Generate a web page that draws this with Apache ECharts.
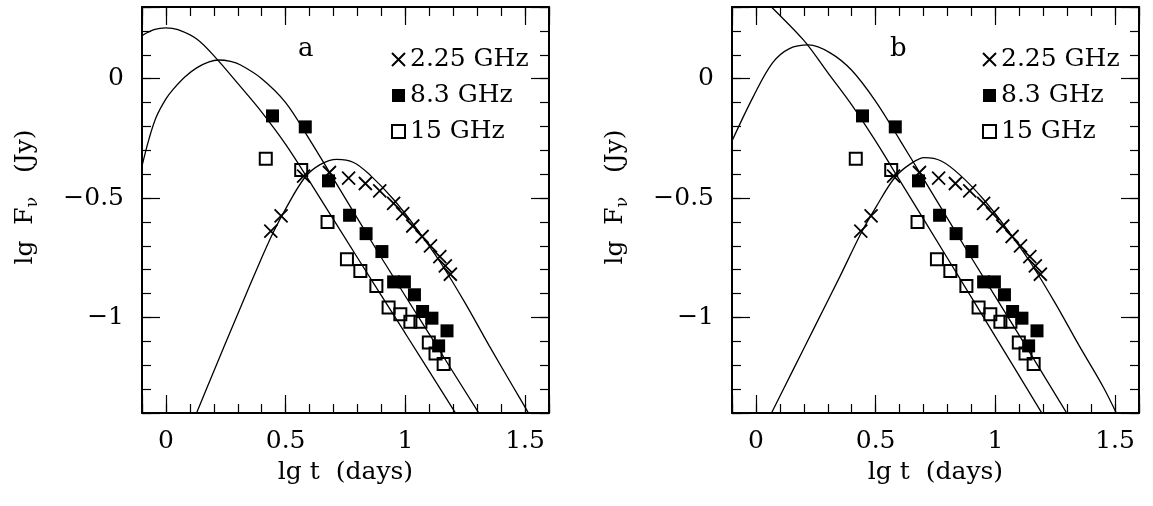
<!DOCTYPE html>
<html>
<head>
<meta charset="utf-8">
<script src="https://cdn.jsdelivr.net/npm/echarts@6/dist/echarts.min.js"></script>
<style>html,body{margin:0;padding:0;background:#fff}#c{width:1153px;height:506px}</style>
</head>
<body>
<div id="c"></div>
<script>
// ---- observed data (same in both panels) ----
const x225 = [0.438,0.481,0.575,0.683,0.763,0.833,0.893,0.951,0.989,1.031,1.070,1.105,1.144,1.167,1.188];
const y225 = [-0.638,-0.575,-0.408,-0.393,-0.417,-0.439,-0.470,-0.522,-0.565,-0.617,-0.661,-0.700,-0.745,-0.784,-0.819];
const x83 = [0.445,0.582,0.679,0.767,0.836,0.902,0.951,0.996,1.038,1.072,1.111,1.174,1.139];
const y83 = [-0.156,-0.202,-0.428,-0.572,-0.649,-0.724,-0.851,-0.851,-0.905,-0.975,-1.003,-1.056,-1.119];
const x15 = [0.417,0.565,0.675,0.756,0.812,0.879,0.930,0.979,1.021,1.063,1.098,1.126,1.160];
const y15 = [-0.335,-0.382,-0.600,-0.756,-0.805,-0.868,-0.958,-0.986,-1.018,-1.018,-1.105,-1.151,-1.195];

// ---- model curves, panel a ----
const a15x = [-0.10,-0.05,0.00,0.05,0.13,0.21,0.30,0.40,0.50,0.60,0.80,1.00,1.22];
const a15y = [0.180,0.205,0.213,0.205,0.165,0.085,-0.020,-0.140,-0.275,-0.430,-0.750,-1.067,-1.417];
const a83x = [-0.10,-0.07,-0.04,0.00,0.03,0.08,0.13,0.18,0.22,0.27,0.31,0.40,0.50,0.60,0.70,0.90,1.10,1.32];
const a83y = [-0.366,-0.250,-0.160,-0.085,-0.045,0.008,0.046,0.070,0.078,0.072,0.058,0.000,-0.100,-0.255,-0.420,-0.750,-1.070,-1.421];
const a225x = [0.128,0.20,0.30,0.40,0.45,0.50,0.58,0.644,0.714,0.784,0.854,0.95,1.05,1.15,1.25,1.35,1.45,1.52];
const a225y = [-1.40,-1.225,-0.985,-0.75,-0.64,-0.545,-0.414,-0.36,-0.338,-0.351,-0.405,-0.505,-0.632,-0.775,-0.94,-1.118,-1.29,-1.41];

// ---- model curves, panel b ----
const b15x = [0.00,0.065,0.20,0.30,0.40,0.50,0.60,0.80,1.00,1.20];
const b15y = [0.365,0.300,0.160,0.025,-0.110,-0.262,-0.425,-0.752,-1.080,-1.41];
const b83x = [-0.10,-0.01,0.07,0.14,0.22,0.31,0.40,0.50,0.60,0.70,0.90,1.10,1.31];
const b83y = [-0.261,-0.073,0.067,0.126,0.141,0.108,0.035,-0.095,-0.255,-0.420,-0.750,-1.075,-1.42];
const b225x = [0.065,0.15,0.25,0.35,0.44,0.50,0.58,0.644,0.704,0.774,0.854,0.95,1.05,1.15,1.25,1.35,1.45,1.51];
const b225y = [-1.40,-1.23,-1.03,-0.83,-0.645,-0.54,-0.414,-0.358,-0.331,-0.345,-0.405,-0.505,-0.632,-0.775,-0.94,-1.118,-1.29,-1.41];

const legendNames = ['2.25 GHz','8.3 GHz','15 GHz'];
const panelLabels = ['a','b'];

const FONT = 'DejaVu Serif';
const FS = 25;
const CROSS = 'path://M0,0L10,10M0,10L10,0';

function pairs(xs, ys){ return xs.map((x,i)=>[x, ys[i]]); }
function fmt(v){
  const r = Math.round(v*10)/10;
  if (Math.abs(r*2 - Math.round(r*2)) > 1e-6) return '';
  if (r === 0) return '0';
  return (r < 0 ? '\u2212' : '') + String(Math.abs(r));
}

const gridLefts = [142, 732];
const gridW = 407, gridTop = 7, gridH = 406;

function axisBase(g, min, max){
  return {
    gridIndex: g, type: 'value', min: min, max: max,
    splitLine: {show: false},
    axisLine: {show: true, onZero: false, lineStyle: {color: '#000', width: 2}},
    axisTick: {show: true, inside: true, length: 18, lineStyle: {color: '#000', width: 1.2}},
    axisLabel: {show: false},
    axisPointer: {show: false}
  };
}
function minorOf(base, interval){
  return Object.assign({}, base, {
    interval: interval,
    axisLine: {show: false, onZero: false},
    axisTick: {show: true, inside: true, length: 9, lineStyle: {color: '#000', width: 1.2}}
  });
}

const xAxis = [], yAxis = [];
[0,1].forEach(g => {
  const xb = axisBase(g, -0.1, 1.6);
  xAxis.push(Object.assign({}, xb, {
    position: 'bottom', splitNumber: 4,
    axisLabel: {show: true, margin: 16, color: '#000', fontFamily: FONT, fontSize: FS, formatter: fmt},
    name: 'lg t  (days)', nameLocation: 'middle', nameGap: 47,
    nameTextStyle: {color: '#000', fontFamily: FONT, fontSize: FS}
  }));
  xAxis.push(Object.assign(minorOf(xb, 0.1), {position: 'bottom'}));
  xAxis.push(Object.assign({}, xb, {position: 'top', splitNumber: 4}));
  xAxis.push(Object.assign(minorOf(xb, 0.1), {position: 'top'}));

  const yb = axisBase(g, -1.4, 0.3);
  yAxis.push(Object.assign({}, yb, {
    position: 'left', splitNumber: 4,
    axisLabel: {show: true, margin: 18, color: '#000', fontFamily: FONT, fontSize: FS, formatter: fmt},
    name: 'lg  F{sub|\u03bd}   (Jy)', nameLocation: 'middle', nameGap: 101,
    nameTextStyle: {color: '#000', fontFamily: FONT, fontSize: FS, padding: [0,0,0,26],
      rich: {sub: {fontFamily: FONT, fontSize: 17, color: '#000', padding: [14,0,0,0]}}}
  }));
  yAxis.push(Object.assign(minorOf(yb, 0.1), {position: 'left'}));
  yAxis.push(Object.assign({}, yb, {position: 'right', splitNumber: 4}));
  yAxis.push(Object.assign(minorOf(yb, 0.1), {position: 'right'}));
});

const curves = [
  [pairs(a15x,a15y), pairs(a83x,a83y), pairs(a225x,a225y)],
  [pairs(b15x,b15y), pairs(b83x,b83y), pairs(b225x,b225y)]
];

const series = [];
[0,1].forEach(g => {
  const ai = g*4;
  curves[g].forEach(c => series.push({
    type: 'line', xAxisIndex: ai, yAxisIndex: ai, data: c, showSymbol: false,
    smooth: 0.35, silent: true, lineStyle: {color: '#000', width: 1.3}, z: 2
  }));
  series.push({type: 'scatter', name: legendNames[0], xAxisIndex: ai, yAxisIndex: ai,
    data: pairs(x225,y225), symbol: CROSS, symbolSize: 13, silent: true, z: 3,
    itemStyle: {color: 'transparent', borderColor: '#000', borderWidth: 1.8, opacity: 1}});
  series.push({type: 'scatter', name: legendNames[1], xAxisIndex: ai, yAxisIndex: ai,
    data: pairs(x83,y83), symbol: 'rect', symbolSize: 13, silent: true, z: 3,
    itemStyle: {color: '#000', opacity: 1}});
  series.push({type: 'scatter', name: legendNames[2], xAxisIndex: ai, yAxisIndex: ai,
    data: pairs(x15,y15), symbol: 'rect', symbolSize: 12, silent: true, z: 3,
    itemStyle: {color: 'transparent', borderColor: '#000', borderWidth: 2, opacity: 1}});
});

const legendStyle = {orient: 'vertical', top: 42, itemWidth: 13, itemHeight: 13, itemGap: 11,
  selectedMode: false, data: legendNames,
  textStyle: {color: '#000', fontFamily: FONT, fontSize: FS}};

const option = {
  animation: false,
  backgroundColor: '#fff',
  grid: gridLefts.map(l => ({left: l, top: gridTop, width: gridW, height: gridH, containLabel: false, outerBoundsMode: 'none'})),
  title: [
    {text: panelLabels[0], left: 293, top: 31, padding: 5, textStyle: {color: '#000', fontFamily: FONT, fontSize: 26, fontWeight: 'normal'}},
    {text: panelLabels[1], left: 885, top: 31, padding: 5, textStyle: {color: '#000', fontFamily: FONT, fontSize: 26, fontWeight: 'normal'}}
  ],
  legend: [
    Object.assign({left: 386}, legendStyle),
    Object.assign({left: 977}, legendStyle)
  ],
  xAxis: xAxis,
  yAxis: yAxis,
  series: series
};

const chart = echarts.init(document.getElementById('c'), null, {renderer: 'canvas'});
chart.setOption(option);
</script>
</body>
</html>
